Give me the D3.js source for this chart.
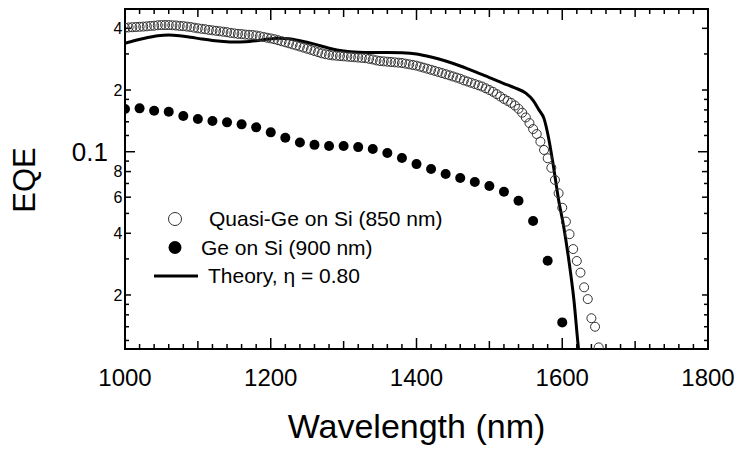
<!DOCTYPE html>
<html>
<head>
<meta charset="utf-8">
<script src="https://cdn.jsdelivr.net/npm/d3@7/dist/d3.min.js"></script>
<style>
  body { margin: 0; background: #fff; }
  svg { font-family: "Liberation Sans", Arial, sans-serif; }
</style>
</head>
<body>
<div id="chart"></div>
<script>
// Quasi-Ge on Si (850 nm), open circles
const quasiWl = [
  1000, 1005, 1010, 1015, 1020, 1025, 1030, 1035, 1040, 1045, 1050, 1055, 1060, 1065, 1070, 1075, 1080, 1085, 1090, 1095,
  1100, 1105, 1110, 1115, 1120, 1125, 1130, 1135, 1140, 1145, 1150, 1155, 1160, 1165, 1170, 1175, 1180, 1185, 1190, 1195,
  1200, 1205, 1210, 1215, 1220, 1225, 1230, 1235, 1240, 1245, 1250, 1255, 1260, 1265, 1270, 1275, 1280, 1285, 1290, 1295,
  1300, 1305, 1310, 1315, 1320, 1325, 1330, 1335, 1340, 1345, 1350, 1355, 1360, 1365, 1370, 1375, 1380, 1385, 1390, 1395,
  1400, 1405, 1410, 1415, 1420, 1425, 1430, 1435, 1440, 1445, 1450, 1455, 1460, 1465, 1470, 1475, 1480, 1485, 1490, 1495,
  1500, 1505, 1510, 1515, 1520, 1525, 1530, 1535, 1540, 1545, 1550, 1555,
  1560, 1565, 1570, 1575, 1580, 1585, 1590, 1595, 1600, 1605, 1610, 1615, 1620, 1625, 1630, 1635, 1640, 1645, 1650
]
const quasiEqe = [
  0.402, 0.404, 0.405, 0.406, 0.407, 0.408, 0.409, 0.411, 0.412, 0.414, 0.415, 0.415, 0.415, 0.414, 0.413, 0.411, 0.410, 0.408, 0.406, 0.403,
  0.400, 0.398, 0.396, 0.393, 0.391, 0.389, 0.387, 0.385, 0.383, 0.380, 0.378, 0.376, 0.375, 0.373, 0.372, 0.371, 0.369, 0.366, 0.363, 0.360,
  0.357, 0.354, 0.350, 0.346, 0.342, 0.338, 0.334, 0.330, 0.326, 0.322, 0.318, 0.314, 0.310, 0.306, 0.302, 0.299, 0.297, 0.295, 0.294, 0.293,
  0.292, 0.291, 0.290, 0.289, 0.288, 0.287, 0.286, 0.284, 0.282, 0.279, 0.277, 0.276, 0.275, 0.274, 0.273, 0.272, 0.271, 0.269, 0.267, 0.265,
  0.263, 0.260, 0.257, 0.254, 0.251, 0.248, 0.245, 0.242, 0.239, 0.236, 0.233, 0.230, 0.227, 0.223, 0.220, 0.217, 0.214, 0.211, 0.208, 0.204,
  0.200, 0.196, 0.191, 0.186, 0.181, 0.177, 0.173, 0.168, 0.162, 0.155, 0.147, 0.138,
  0.129, 0.122, 0.112, 0.102, 0.0929, 0.0835, 0.0728, 0.0627, 0.0533, 0.0456, 0.0396, 0.0335, 0.0293, 0.0257, 0.0218, 0.0191, 0.0154, 0.0140, 0.0111
]

// Ge on Si (900 nm), filled dots
const geWl = [1000, 1020, 1040, 1060, 1080, 1100, 1120, 1140, 1160, 1180, 1200, 1220, 1240, 1260, 1280, 1300,
  1320, 1340, 1360, 1380, 1400, 1420, 1440, 1460, 1480, 1500, 1520, 1540, 1560, 1580, 1600]
const geEqe = [0.1616, 0.1628, 0.1585, 0.1567, 0.1493, 0.1444, 0.1412, 0.1391, 0.136, 0.1315, 0.1243, 0.117, 0.111, 0.108, 0.1066, 0.1066,
  0.1053, 0.103, 0.0985, 0.0932, 0.087, 0.0823, 0.0778, 0.0744, 0.0711, 0.068, 0.0638, 0.0577, 0.0459, 0.0294, 0.0147]

// Theory, eta = 0.80
const theoryWl = [1000, 1015, 1030, 1045, 1060, 1075, 1090, 1105, 1120, 1135, 1150, 1165, 1180, 1195, 1210, 1225, 1240, 1260, 1280, 1300,
  1320, 1340, 1360, 1380, 1400, 1420, 1440, 1460, 1480, 1500, 1520, 1535, 1550, 1560, 1568, 1575, 1581, 1588, 1595, 1602, 1609, 1616, 1622, 1626]
const theoryEqe = [0.338, 0.350, 0.360, 0.368, 0.371, 0.368, 0.362, 0.355, 0.349, 0.345, 0.343, 0.344, 0.348, 0.354, 0.358, 0.356, 0.348, 0.335, 0.320, 0.310,
  0.306, 0.305, 0.305, 0.304, 0.300, 0.290, 0.277, 0.262, 0.246, 0.230, 0.215, 0.205, 0.193, 0.178, 0.160, 0.145, 0.118, 0.0845, 0.0581, 0.0431, 0.0296, 0.0189, 0.0112, 0.0085]

const xTickLabels = [1000, 1200, 1400, 1600, 1800]
const yLabelled = [0.4, 0.2, 0.1, 0.08, 0.06, 0.04, 0.02]
const yLabelText = ['4', '2', '0.1', '8', '6', '4', '2']
const yMinor = [0.3, 0.18, 0.16, 0.14, 0.12, 0.09, 0.07, 0.05, 0.03, 0.018, 0.016, 0.014, 0.012]

const width = 738, height = 454
const m = { left: 125, right: 708, top: 9, bottom: 349 }

const svg = d3.select('#chart').append('svg')
  .attr('width', width)
  .attr('height', height)

const x = d3.scaleLinear().domain([1000, 1800]).range([m.left, m.right])
const y = d3.scaleLog().domain([0.0109, 0.497]).range([m.bottom, m.top])

svg.append('clipPath').attr('id', 'clip')
  .append('rect')
  .attr('x', m.left).attr('y', m.top)
  .attr('width', m.right - m.left).attr('height', m.bottom - m.top)

// ticks, all pointing inward on the four sides
const xTicks = d3.range(1000, 1801, 20)
const xLen = (v) => v % 200 === 0 ? 11 : (v % 100 === 0 ? 8 : 5)
const ticks = svg.append('g').attr('stroke', '#000').attr('stroke-width', 1.5)
xTicks.forEach(v => {
  if (v === 1000 || v === 1800) return
  ticks.append('line').attr('x1', x(v)).attr('x2', x(v)).attr('y1', m.bottom).attr('y2', m.bottom - xLen(v))
  ticks.append('line').attr('x1', x(v)).attr('x2', x(v)).attr('y1', m.top).attr('y2', m.top + xLen(v))
})
const yTickAll = yLabelled.map(v => ({ v, len: v === 0.1 ? 10 : 6 }))
  .concat(yMinor.map(v => ({ v, len: 4 })))
yTickAll.forEach(t => {
  ticks.append('line').attr('x1', m.left).attr('x2', m.left + t.len).attr('y1', y(t.v)).attr('y2', y(t.v))
  ticks.append('line').attr('x1', m.right).attr('x2', m.right - t.len).attr('y1', y(t.v)).attr('y2', y(t.v))
})

// frame
svg.append('rect')
  .attr('x', m.left).attr('y', m.top)
  .attr('width', m.right - m.left).attr('height', m.bottom - m.top)
  .attr('fill', 'none').attr('stroke', '#000').attr('stroke-width', 2)

// tick labels
svg.append('g').selectAll('text')
  .data(xTickLabels)
  .enter().append('text')
  .attr('x', d => x(d))
  .attr('y', 386)
  .attr('text-anchor', 'middle')
  .attr('font-size', 24)
  .text(d => d)

svg.append('g').selectAll('text')
  .data(yLabelled)
  .enter().append('text')
  .attr('x', d => d === 0.1 ? 108 : 122.5)
  .attr('y', d => y(d))
  .attr('dy', d => d === 0.1 ? '0.36em' : '0.36em')
  .attr('text-anchor', 'end')
  .attr('font-size', d => d === 0.1 ? 26 : 16)
  .text((d, i) => yLabelText[i])

// axis titles
svg.append('text')
  .attr('x', (m.left + m.right) / 2)
  .attr('y', 438)
  .attr('text-anchor', 'middle')
  .attr('font-size', 34)
  .text('Wavelength (nm)')

svg.append('text')
  .attr('transform', 'translate(35,180) rotate(-90)')
  .attr('text-anchor', 'middle')
  .attr('font-size', 31)
  .text('EQE')

// data
const plot = svg.append('g').attr('clip-path', 'url(#clip)')

const theory = theoryWl.map((w, i) => [w, theoryEqe[i]])
plot.append('path')
  .datum(theory)
  .attr('fill', 'none')
  .attr('stroke', '#000')
  .attr('stroke-width', 3)
  .attr('d', d3.line().x(d => x(d[0])).y(d => y(d[1])).curve(d3.curveMonotoneX))

plot.append('g').selectAll('circle')
  .data(quasiWl.map((w, i) => [w, quasiEqe[i]]))
  .enter().append('circle')
  .attr('cx', d => x(d[0]))
  .attr('cy', d => y(d[1]))
  .attr('r', 4.5)
  .attr('fill', 'none')
  .attr('stroke', '#333')
  .attr('stroke-width', 1)

plot.append('g').selectAll('circle')
  .data(geWl.map((w, i) => [w, geEqe[i]]))
  .enter().append('circle')
  .attr('cx', d => x(d[0]))
  .attr('cy', d => y(d[1]))
  .attr('r', 5)
  .attr('fill', '#000')

// legend
const legend = svg.append('g').attr('font-size', 21)
legend.append('circle').attr('cx', 175).attr('cy', 219).attr('r', 6.5)
  .attr('fill', 'none').attr('stroke', '#333').attr('stroke-width', 1)
legend.append('text').attr('x', 209).attr('y', 226).text('Quasi-Ge on Si (850 nm)')
legend.append('circle').attr('cx', 175).attr('cy', 247.5).attr('r', 6.5).attr('fill', '#000')
legend.append('text').attr('x', 201).attr('y', 255).text('Ge on Si (900 nm)')
legend.append('line').attr('x1', 154).attr('x2', 198).attr('y1', 276).attr('y2', 276)
  .attr('stroke', '#000').attr('stroke-width', 3)
legend.append('text').attr('x', 208).attr('y', 283).text('Theory, η = 0.80')
</script>
</body>
</html>
